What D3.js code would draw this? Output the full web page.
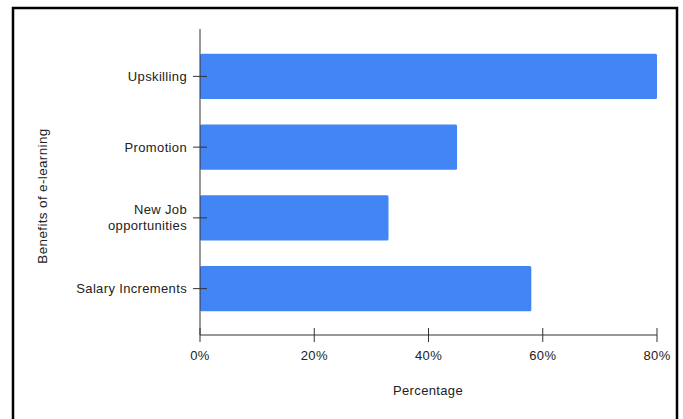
<!DOCTYPE html>
<html>
<head>
<meta charset="utf-8">
<script src="https://cdn.jsdelivr.net/npm/d3@7"></script>
<style>
  body { margin: 0; background: #fff; }
  svg { display: block; font-family: "Liberation Sans", Arial, sans-serif; }
  text { letter-spacing: 0.35px; }
</style>
</head>
<body>
<svg id="chart" width="683" height="419"></svg>
<script>
var categories = ['Upskilling', 'Promotion', 'New Job opportunities', 'Salary Increments'];
var labelLines = [['Upskilling'], ['Promotion'], ['New Job', 'opportunities'], ['Salary Increments']];
var values = [80, 45, 33, 58];
var ticks = [0, 20, 40, 60, 80];

var svg = d3.select('#chart');

// outer frame
svg.append('rect')
    .attr('x', 13).attr('y', 8)
    .attr('width', 664).attr('height', 430)
    .attr('fill', 'none')
    .attr('stroke', '#000')
    .attr('stroke-width', 2.5);

var x = d3.scaleLinear().domain([0, 80]).range([200, 657]);
var y = d3.scaleBand().domain(categories).range([41, 324]).paddingInner(0.36).paddingOuter(0.18);

// bars
svg.selectAll('.bar')
    .data(values)
    .enter().append('rect')
    .attr('class', 'bar')
    .attr('x', x(0))
    .attr('y', function(d, i){ return y(categories[i]); })
    .attr('width', function(d){ return x(d) - x(0); })
    .attr('height', y.bandwidth())
    .attr('rx', 1.5)
    .attr('fill', '#4285f4');

// axes lines
svg.append('line')
    .attr('x1', x(0)).attr('x2', x(0))
    .attr('y1', 29).attr('y2', 335)
    .attr('stroke', '#333').attr('stroke-width', 1);
svg.append('line')
    .attr('x1', x(0)).attr('x2', x(80))
    .attr('y1', 335).attr('y2', 335)
    .attr('stroke', '#333').attr('stroke-width', 1);

// x ticks
var xt = svg.selectAll('.xt').data(ticks).enter().append('g')
    .attr('transform', function(d){ return 'translate(' + x(d) + ',0)'; });
xt.append('line')
    .attr('y1', 328).attr('y2', 342)
    .attr('stroke', '#333');
xt.append('text')
    .attr('y', 360)
    .attr('text-anchor', 'middle')
    .attr('font-size', 13)
    .attr('fill', '#222')
    .text(function(d){ return d + '%'; });

// y ticks
var yt = svg.selectAll('.yt').data(categories).enter().append('g')
    .attr('transform', function(d){ return 'translate(0,' + (y(d) + y.bandwidth() / 2) + ')'; });
yt.append('line')
    .attr('x1', 193).attr('x2', 207)
    .attr('stroke', '#333');
yt.append('text')
    .attr('x', 187)
    .attr('text-anchor', 'end')
    .attr('font-size', 13)
    .attr('fill', '#222')
    .each(function(d, i){
        var lines = labelLines[i];
        var t = d3.select(this);
        lines.forEach(function(l, j){
            t.append('tspan')
                .attr('x', 187)
                .attr('y', (j - (lines.length - 1) / 2) * 16 + 4.5)
                .text(l);
        });
    });

// axis titles
svg.append('text')
    .attr('x', 428).attr('y', 395)
    .attr('text-anchor', 'middle')
    .attr('font-size', 13)
    .attr('fill', '#222')
    .text('Percentage');
svg.append('text')
    .attr('transform', 'translate(47,196) rotate(-90)')
    .attr('text-anchor', 'middle')
    .attr('font-size', 13.5)
    .attr('fill', '#222')
    .text('Benefits of e-learning');
</script>
</body>
</html>
